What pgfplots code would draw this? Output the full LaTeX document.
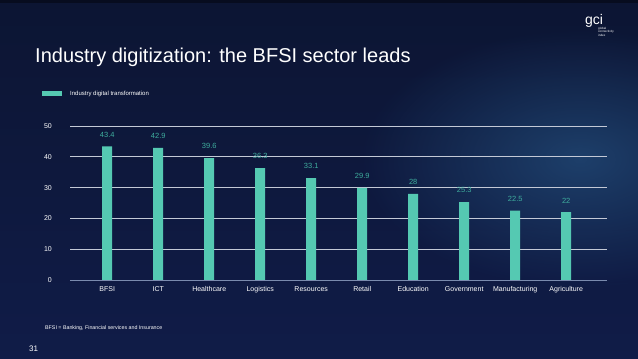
\documentclass[border=0pt]{standalone}
\usepackage{pgfplots}
\pgfplotsset{compat=1.18}
\usetikzlibrary{fadings}
\usepackage{fontspec}
\setmainfont{Liberation Sans}
\definecolor{barcol}{HTML}{55C9B2}
\definecolor{valcol}{HTML}{3FAE9E}
\definecolor{gridcol}{HTML}{C3C9D6}
\definecolor{zerocol}{HTML}{7A8BAE}
\definecolor{bgtop}{HTML}{0C1533}
\definecolor{bgmid}{HTML}{173560}
\definecolor{bgbot}{HTML}{101C48}
\definecolor{glow}{HTML}{24507E}
\tikzfading[name=myfade, inner color=transparent!0, outer color=transparent!100]
\begin{document}
\begin{tikzpicture}[x=1pt,y=1pt]
\shade[top color=bgtop, middle color=bgmid, bottom color=bgbot] (0pt,0pt) rectangle (638pt,359pt);
\begin{scope}
\clip (0pt,0pt) rectangle (638pt,359pt);
\fill[glow, path fading=myfade, opacity=0.7] (580pt,200pt) ellipse (220pt and 130pt);
\end{scope}
\fill[black!40!bgtop] (0pt,356pt) rectangle (638pt,359pt);
% logo
\node[anchor=west, text=white, font=\fontsize{14}{14}\selectfont, inner sep=0] at (585pt,338pt) {gci};
\node[anchor=north west, text=white!80, font=\fontsize{3}{3.6}\selectfont, inner sep=0, align=left] at (598pt,332pt) {global\\connectivity\\index};
% title
\node[anchor=west, text=white, font=\fontsize{20}{20}\selectfont, inner sep=0] at (35pt,302pt) {Industry digitization: the BFSI sector leads};
% legend
\fill[barcol] (42pt,263pt) rectangle (62pt,268pt);
\node[anchor=west, text=white!90, font=\fontsize{6}{6}\selectfont, inner sep=0] at (70pt,265.5pt) {Industry digital transformation};
% footnote and page number
\node[anchor=west, text=white!85, font=\fontsize{5.3}{5.3}\selectfont, inner sep=0] at (45pt,30.5pt) {BFSI = Banking, Financial services and Insurance};
\node[anchor=west, text=white!75, font=\fontsize{8}{8}\selectfont, inner sep=0] at (29pt,10pt) {31};
\begin{axis}[
  at={(70pt,79pt)}, anchor=south west,
  scale only axis, width=537pt, height=154pt,
  xmin=-0.73, xmax=9.8, ymin=0, ymax=50,
  ybar, bar width=10pt,
  axis line style={draw=none},
  ymajorgrids, grid style={gridcol, line width=0.6pt},
  ytick={10,20,30,40,50},
  extra y ticks={0}, extra y tick style={grid style={zerocol, line width=0.6pt}},
  xtick=data,
  xticklabels={BFSI,ICT,Healthcare,Logistics,Resources,Retail,Education,Government,Manufacturing,Agriculture},
  major tick length=0pt,
  /pgf/number format/assume math mode=true,
  ticklabel style={text=white!80, font=\fontsize{7}{7}\selectfont},
  xticklabel style={inner sep=0, yshift=-6pt},
  yticklabel style={inner sep=0, xshift=-18pt},
  nodes near coords,
  every node near coord/.append style={text=valcol, font=\fontsize{7.5}{7.5}\selectfont, inner sep=0, yshift=9pt},
]
\addplot[fill=barcol, draw=none] coordinates {(0,43.4) (1,42.9) (2,39.6) (3,36.3) (4,33.1) (5,29.9) (6,28) (7,25.3) (8,22.5) (9,22)};
\end{axis}
\end{tikzpicture}
\end{document}
